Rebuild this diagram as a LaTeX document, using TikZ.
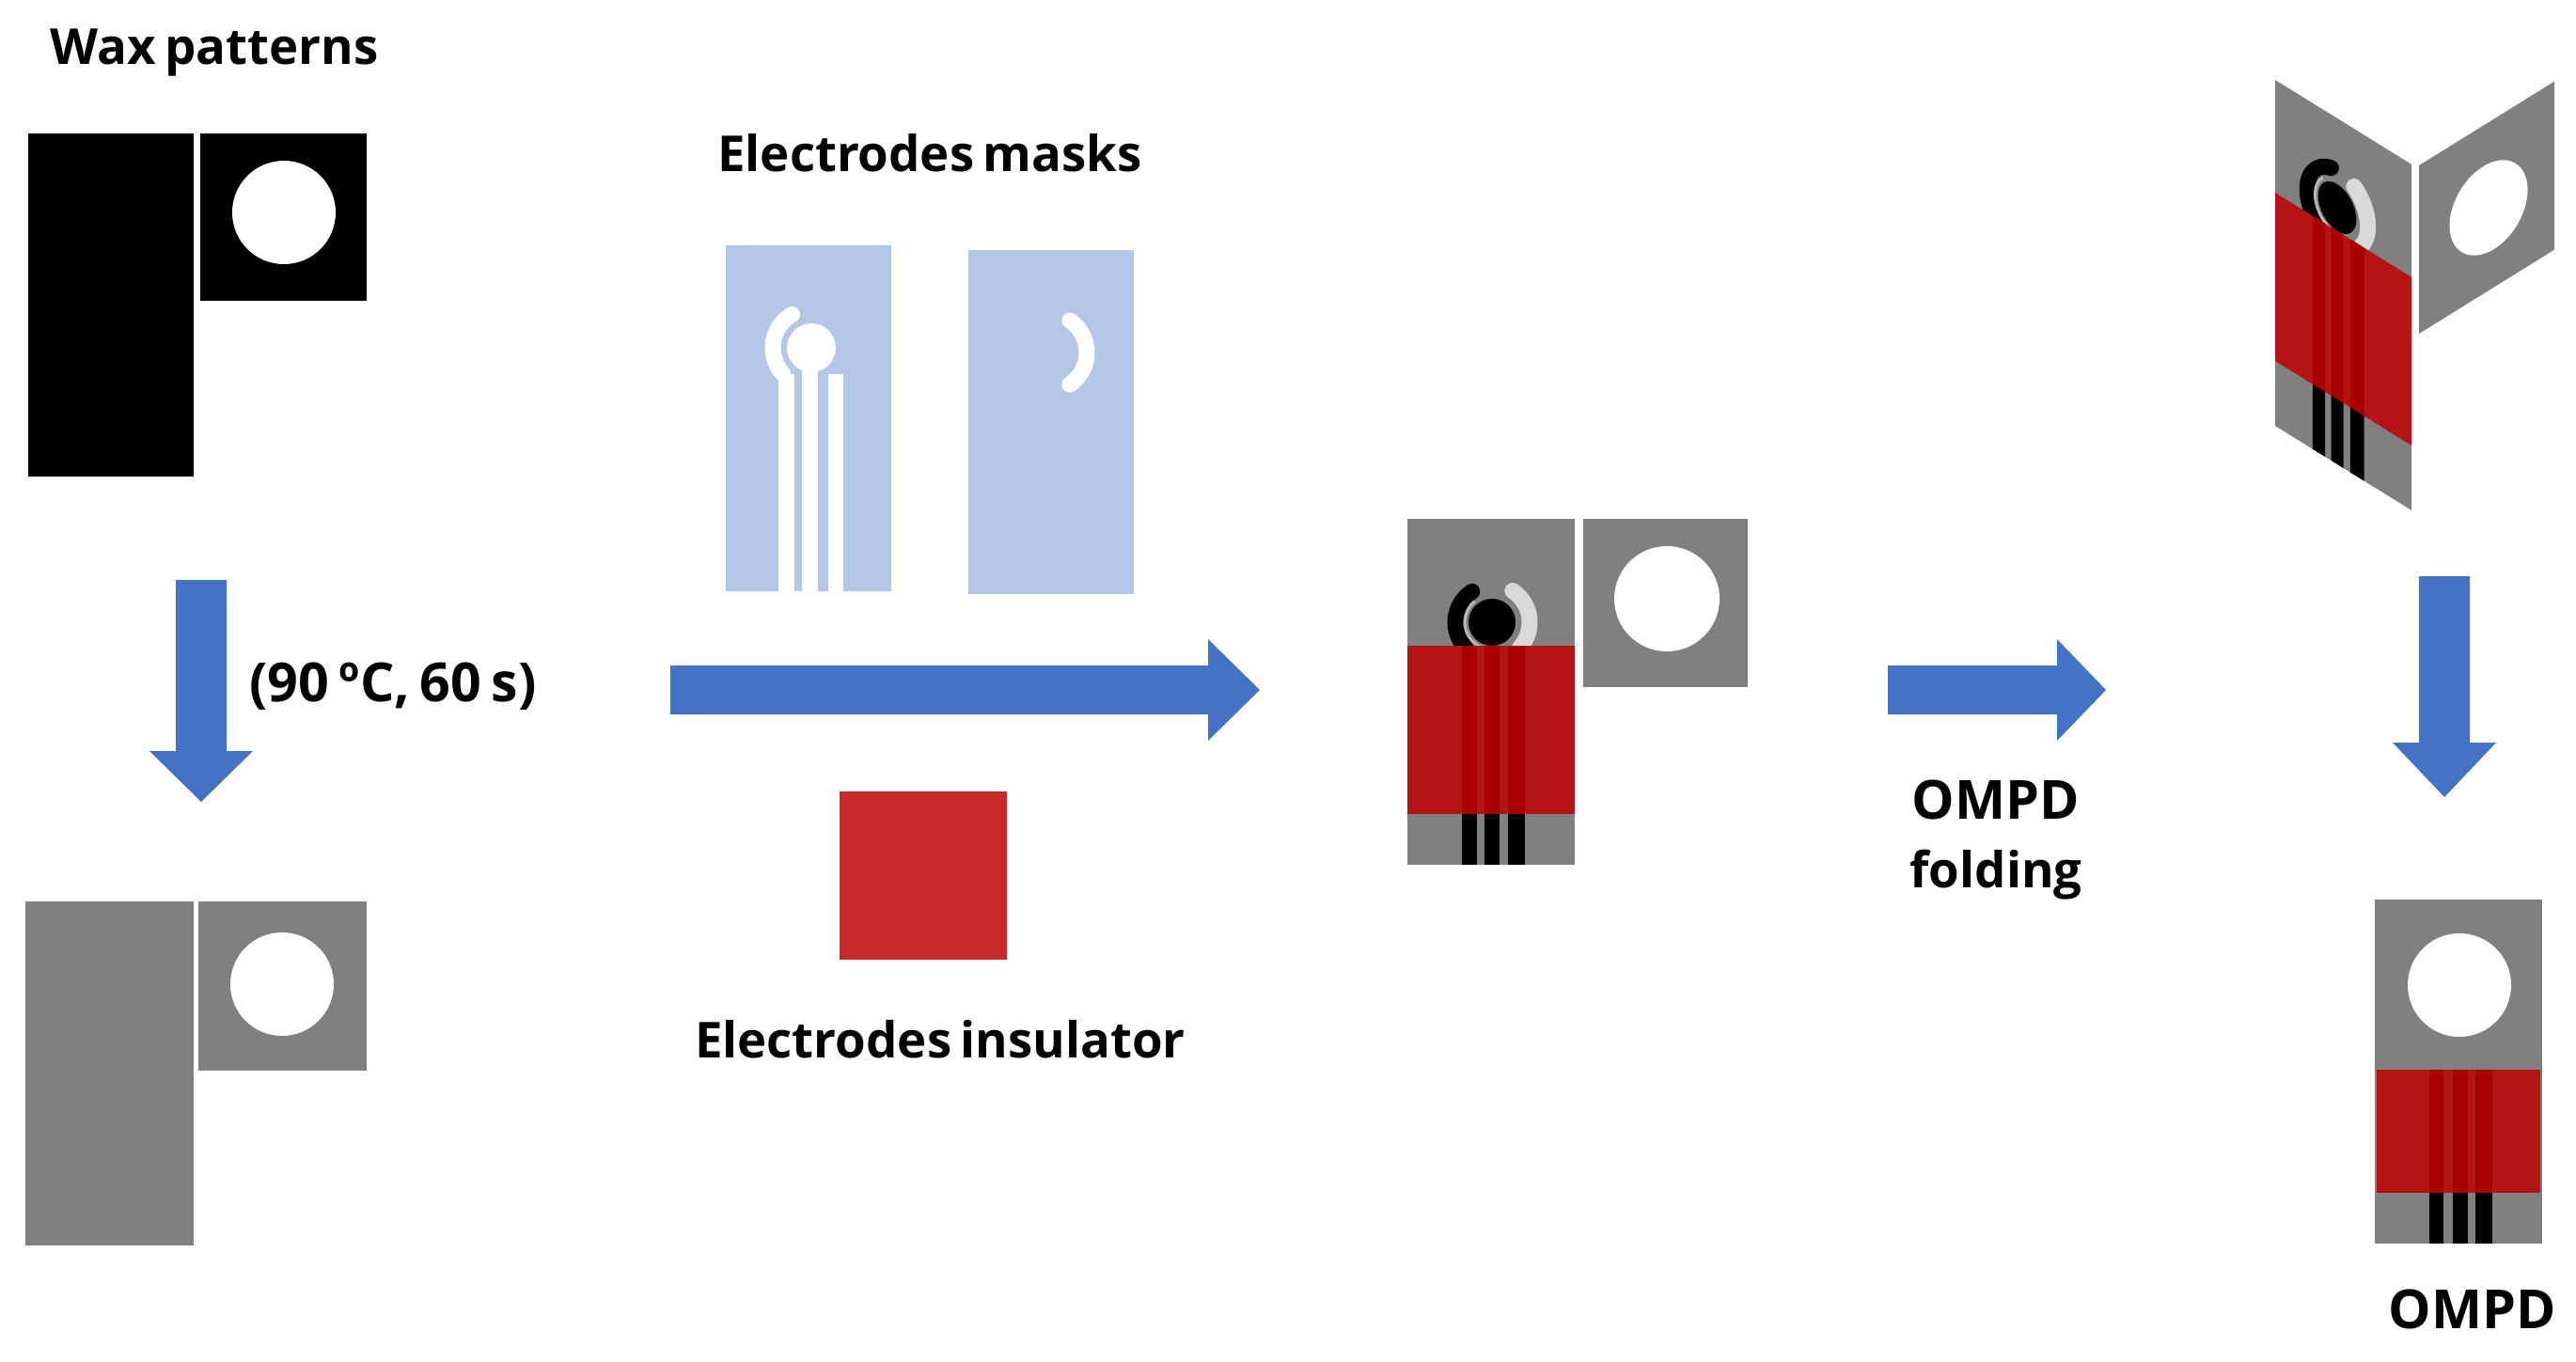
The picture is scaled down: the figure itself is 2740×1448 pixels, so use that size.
\documentclass[tikz,border=0pt]{standalone}
\usepackage{fontspec}
\setmainfont[WordSpace=0.7]{Open Sans}
\definecolor{arrowblue}{HTML}{4472C4}
\definecolor{maskblue}{HTML}{B4C7E7}
\definecolor{panelgrey}{HTML}{808080}
\definecolor{insulred}{HTML}{B51414}
\definecolor{deepred}{HTML}{A80000}
\definecolor{squarered}{HTML}{C92A2A}
\definecolor{lightarc}{HTML}{D9D9D9}
\definecolor{ringgrey}{HTML}{B8B8B8}
\tikzset{
  blockarrow/.style={fill=arrowblue,draw=none},
  waxblack/.style={fill=black,draw=none},
  panel/.style={fill=panelgrey,draw=none},
  maskfill/.style={fill=maskblue,draw=none},
  hole/.style={fill=white,draw=none},
  label/.style={font=\bfseries\fontsize{15}{17}\selectfont,inner sep=0pt,anchor=center,text=black},
  biglabel/.style={label,font=\bfseries\fontsize{16.3}{17}\selectfont},
  thickarc/.style={line width=0.17cm,line cap=round},
}
\newcommand{\downarrowshape}[4]{% x centre, top, head start, tip
  \fill[blockarrow] (#1-27,#2) -- (#1+27,#2) -- (#1+27,#3) -- (#1+55,#3) -- (#1,#4) -- (#1-55,#3) -- (#1-27,#3) -- cycle;}
\newcommand{\rightarrowshape}[4]{% left, head start, tip, y centre
  \fill[blockarrow] (#1,#4-26) -- (#2,#4-26) -- (#2,#4-54) -- (#3,#4) -- (#2,#4+54) -- (#2,#4+26) -- (#1,#4+26) -- cycle;}
% four-corner box that follows a sheared coordinate system
\newcommand{\boxpath}[4]{(#1,#2) -- (#3,#2) -- (#3,#4) -- (#1,#4) -- cycle}
% sensor in panel-local coordinates (panel 178 x 368): offset dx, dy of the printed parts, start angle of the black arc
\newcommand{\sensorpanel}[3]{%
  \fill[panel] \boxpath{0}{0}{178}{368};
  \begin{scope}[shift={(#1,#2)}]
    \draw[thickarc,lightarc] (90,110) ++(-57:40) arc[start angle=-57,end angle=42,radius=40];
    \draw[thickarc,black] (90,110) ++(#3:39) arc[start angle=#3,end angle=-225,radius=39];
    \draw[ringgrey,line width=0.03cm] (90,110) ++(-130:29) arc[start angle=-130,end angle=-260,radius=29];
    \fill[black] (90,110) circle[radius=25];
  \end{scope}
  \fill[insulred] \boxpath{0}{135+#2}{178}{314+#2};
  \foreach \sa/\sb in {58/74,82/98,107/125}{
    \fill[deepred] \boxpath{\sa+#1}{135+#2}{\sb+#1}{314+#2};
    \fill[black] \boxpath{\sa+#1}{314+#2}{\sb+#1}{368};
  }
}
\begin{document}
\begin{tikzpicture}[x=0.01cm,y=-0.01cm]
\useasboundingbox (0,0) rectangle (2740,1448);
% wax patterns
\fill[waxblack] (30,142) rectangle (206,507);
\fill[waxblack] (213,142) rectangle (390,320);
\fill[hole] (302,226) circle[radius=55];
% after heating
\fill[panel] (27,959) rectangle (206,1325);
\fill[panel] (211,959) rectangle (390,1139);
\fill[hole] (300,1047) circle[radius=55];
% masks
\fill[maskfill] (772,261) rectangle (948,629);
\fill[hole] (863,370) circle[radius=26];
\fill[hole] (853,370) rectangle (870,629);
\fill[hole] (881,398) rectangle (897,629);
\fill[hole] (828,398) rectangle (845,629);
\draw[thickarc,white] (863,370) ++(-120:41) arc[start angle=-120,end angle=-222,radius=41];
\fill[maskfill] (1030,266) rectangle (1206,632);
\draw[thickarc,white] (1115,375) ++(-56:41) arc[start angle=-56,end angle=56,radius=41];
% insulator
\fill[squarered] (893,842) rectangle (1071,1021);
% arrows
\downarrowshape{214}{617}{799}{853}
\rightarrowshape{713}{1285}{1340}{734}
\rightarrowshape{2008}{2188}{2240}{734}
\downarrowshape{2600}{613}{790}{848}
% assembled sensor
\begin{scope}[shift={(1497,552)}]
  \sensorpanel{0}{0}{-123}
\end{scope}
\fill[panel] (1684,552) rectangle (1859,731);
\fill[hole] (1773,637) circle[radius=56];
% folding: left panel
\begin{scope}[shift={(2420,85)},x={(0.00815cm,-0.00505cm)},y={(0cm,-0.01cm)}]
  \sensorpanel{-9}{-15}{-102}
\end{scope}
% folding: right panel
\begin{scope}[shift={(2573,176)},x={(0.00809cm,0.00502cm)},y={(0cm,-0.01cm)}]
  \fill[panel] \boxpath{0}{0}{178}{179};
\end{scope}
\begin{scope}[shift={(2647,221)},x={(0.0083cm,0.0038cm)},y={(0cm,-0.0094cm)}]
  \fill[hole] (0,0) circle[radius=50];
\end{scope}
% final device
\fill[panel] (2526,957) rectangle (2704,1323);
\fill[hole] (2616,1048) circle[radius=55];
\fill[insulred] (2528,1138) rectangle (2702,1269);
\foreach \sa/\sb in {2584/2599,2609/2625,2633/2651}{
  \fill[deepred] (\sa,1138) rectangle (\sb,1269);
  \fill[black] (\sa,1269) rectangle (\sb,1323);
}
% labels
\node[label] (waxlabel) at (228,56) {Wax patterns};
\node[label] (masklabel) at (989,163) {Electrodes masks};
\node[biglabel] (heatlabel) at (418,730) {(90 ºC, 60 s)};
\node[label] (insullabel) at (1000,1106) {Electrodes insulator};
\node[biglabel] (foldlabela) at (2123,851) {OMPD};
\node[label] (foldlabelb) at (2123,931) {folding};
\node[biglabel] (ompdlabel) at (2630,1393) {OMPD};
\end{tikzpicture}
\end{document}
